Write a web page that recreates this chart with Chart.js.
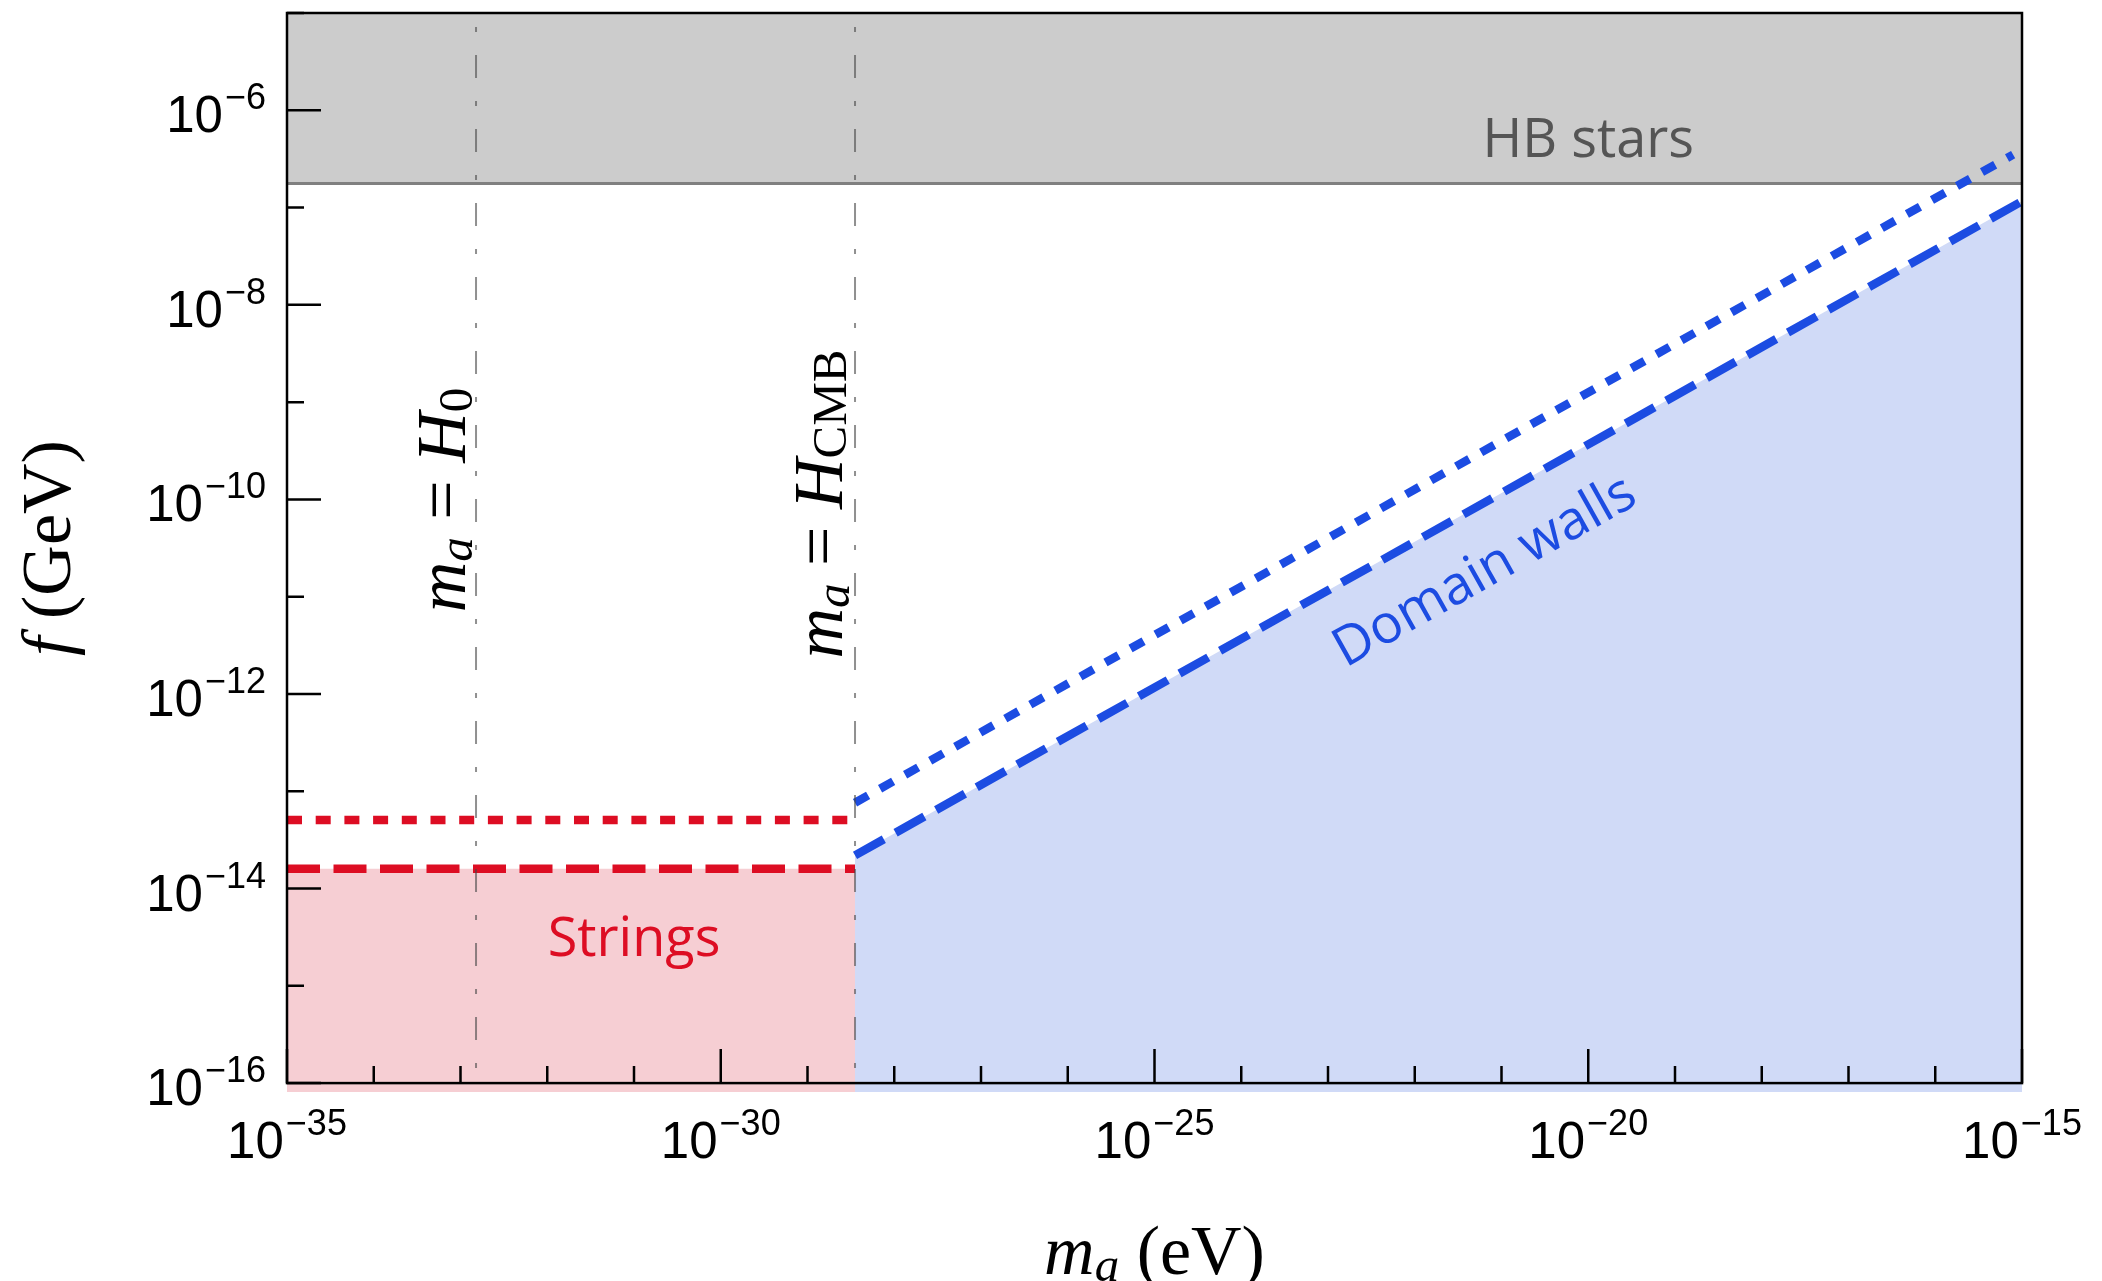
<!DOCTYPE html>
<html>
<head>
<meta charset="utf-8">
<title>Strings and domain walls</title>
<script src="https://cdn.jsdelivr.net/npm/chart.js@4.4.1/dist/chart.umd.min.js"></script>
<style>
  html, body { margin: 0; padding: 0; background: #fff; }
  #chart { display: block; }
</style>
</head>
<body>
<canvas id="chart" width="2102" height="1281"></canvas>
<script>
// ---- values ----
const massRange = [1e-35, 1e-15];        // m_a (eV)
const fRange = [1e-16, 1e-5];            // f (GeV)
const fFillFloor = 8.1e-17;              // the fills run a few px under the frame
const xTickPowers = [-35, -30, -25, -20, -15];
const yTickPowers = [-16, -14, -12, -10, -8, -6];

const massH0 = 1.51e-33;
const massHcmb = 3.53e-29;
const hbStarsF = 1.77e-7;

const stringsMass = [1e-35, 3.53e-29];
const stringsDashedF = [1.6e-14, 1.6e-14];
const stringsDottedF = [5.05e-14, 5.05e-14];

const wallsMass = [3.53e-29, 1e-15];
const wallsDashedF = [2.19e-14, 1.16e-7];
const wallsDottedMass = [3.53e-29, 7.9e-16];
const wallsDottedF = [7.62e-14, 3.5e-7];

// colours
const red = 'rgb(221, 13, 35)';
const pink = 'rgb(246, 206, 211)';
const blue = 'rgb(28, 76, 226)';
const lightBlue = 'rgb(208, 218, 247)';
const guideGray = 'rgba(70, 70, 70, 0.6)';

const SERIF = '"Liberation Serif", "Times New Roman", serif';
const SANS = '"Liberation Sans", Arial, sans-serif';
const LABEL = '"Open Sans", "Noto Sans", sans-serif';

const pts = (xs, ys) => xs.map((x, i) => ({ x: x, y: ys[i] }));

// draws a row of text pieces (mixed fonts, subscripts) centred on (x, y)
function drawRich(ctx, pieces, x, y, angle) {
    ctx.save();
    ctx.translate(x, y);
    ctx.rotate(angle);
    ctx.textAlign = 'left';
    ctx.textBaseline = 'alphabetic';
    const widths = pieces.map(p => {
        ctx.font = p.font;
        return ctx.measureText(p.text).width;
    });
    let cx = -widths.reduce((a, b) => a + b, 0) / 2;
    pieces.forEach((p, i) => {
        ctx.font = p.font;
        ctx.fillStyle = p.color || '#000';
        ctx.fillText(p.text, cx, p.dy || 0);
        cx += widths[i];
    });
    ctx.restore();
}

// "10" with a raised exponent
function drawPower(ctx, exp, x, baseline, align) {
    const base = '10';
    const sup = '\u2212' + Math.abs(exp);
    const gap = 2;
    ctx.font = '51px ' + SANS;
    const wBase = ctx.measureText(base).width;
    ctx.font = '36px ' + SANS;
    const wSup = ctx.measureText(sup).width;
    const total = wBase + gap + wSup;
    const start = align === 'right' ? x - total : x - total / 2;
    ctx.textAlign = 'left';
    ctx.textBaseline = 'alphabetic';
    ctx.fillStyle = '#000';
    ctx.font = '51px ' + SANS;
    ctx.fillText(base, start, baseline);
    ctx.font = '36px ' + SANS;
    ctx.fillText(sup, start + wBase + gap, baseline - 23);
}

const framePlugin = {
    id: 'frame',
    afterDraw(chart) {
        const { ctx, chartArea, scales } = chart;
        const xs = scales.x, ys = scales.y;
        const left = chartArea.left, right = chartArea.right, top = chartArea.top;
        const bottom = ys.getPixelForValue(fRange[0]);

        ctx.save();

        // frame
        ctx.strokeStyle = '#000';
        ctx.lineWidth = 2.5;
        ctx.strokeRect(left, top, right - left, bottom - top);

        // inward ticks, one per decade
        ctx.beginPath();
        for (let p = Math.log10(massRange[0]); p <= Math.log10(massRange[1]); p++) {
            const px = xs.getPixelForValue(Math.pow(10, p));
            const len = xTickPowers.includes(p) ? 34 : 17;
            ctx.moveTo(px, bottom);
            ctx.lineTo(px, bottom - len);
        }
        for (let p = Math.log10(fRange[0]); p <= Math.log10(fRange[1]); p++) {
            const py = ys.getPixelForValue(Math.pow(10, p));
            const len = yTickPowers.includes(p) ? 34 : 17;
            ctx.moveTo(left, py);
            ctx.lineTo(left + len, py);
        }
        ctx.stroke();

        // tick labels
        xTickPowers.forEach(p => {
            drawPower(ctx, p, xs.getPixelForValue(Math.pow(10, p)), bottom + 75, 'center');
        });
        yTickPowers.forEach(p => {
            drawPower(ctx, p, left - 21, ys.getPixelForValue(Math.pow(10, p)) + 22, 'right');
        });

        // axis titles
        drawRich(ctx, [
            { text: 'm', font: 'italic 70px ' + SERIF },
            { text: 'a', font: 'italic 49px ' + SERIF, dy: 7 },
            { text: ' (eV)', font: '70px ' + SERIF }
        ], (left + right) / 2, 1274, 0);
        drawRich(ctx, [
            { text: 'f', font: 'italic 70px ' + SERIF },
            { text: ' (GeV)', font: '70px ' + SERIF }
        ], 70, (top + bottom) / 2, -Math.PI / 2);

        // labels along the two Hubble lines
        drawRich(ctx, [
            { text: 'm', font: 'italic 70px ' + SERIF },
            { text: 'a', font: 'italic 49px ' + SERIF, dy: 7 },
            { text: ' = ', font: '70px ' + SERIF },
            { text: 'H', font: 'italic 70px ' + SERIF },
            { text: '0', font: '49px ' + SERIF, dy: 7 }
        ], xs.getPixelForValue(massH0) - 11, 500, -Math.PI / 2);
        drawRich(ctx, [
            { text: 'm', font: 'italic 70px ' + SERIF },
            { text: 'a', font: 'italic 49px ' + SERIF, dy: 7 },
            { text: ' = ', font: '70px ' + SERIF },
            { text: 'H', font: 'italic 70px ' + SERIF },
            { text: 'CMB', font: '49px ' + SERIF, dy: 4 }
        ], xs.getPixelForValue(massHcmb) - 13, 504, -Math.PI / 2);

        // region names
        ctx.textAlign = 'center';
        ctx.textBaseline = 'alphabetic';
        ctx.font = '54px ' + LABEL;
        ctx.fillStyle = '#555555';
        ctx.fillText('HB stars', xs.getPixelForValue(1e-20), 157);
        ctx.fillStyle = red;
        ctx.fillText('Strings', xs.getPixelForValue(1e-31), 956);

        // domain walls label runs parallel to the f ~ m^(1/2) line
        const p0 = { x: xs.getPixelForValue(wallsMass[0]), y: ys.getPixelForValue(wallsDashedF[0]) };
        const p1 = { x: xs.getPixelForValue(wallsMass[1]), y: ys.getPixelForValue(wallsDashedF[1]) };
        const angle = Math.atan2(p1.y - p0.y, p1.x - p0.x);
        ctx.save();
        ctx.translate(1485, 572);
        ctx.rotate(angle);
        ctx.textBaseline = 'middle';
        ctx.fillStyle = blue;
        ctx.fillText('Domain walls', 0, 0);
        ctx.restore();

        ctx.restore();
    }
};

new Chart(document.getElementById('chart'), {
    type: 'line',
    data: {
        datasets: [
            {
                label: 'HB stars',
                data: pts(massRange, [hbStarsF, hbStarsF]),
                borderColor: '#808080',
                borderWidth: 3,
                backgroundColor: '#cccccc',
                fill: 'end',
                order: 10
            },
            {
                label: 'Strings (dashed)',
                data: pts(stringsMass, stringsDashedF),
                borderColor: red,
                borderWidth: 8.5,
                borderDash: [33, 13.5],
                backgroundColor: pink,
                fill: 'start',
                order: 8
            },
            {
                label: 'Domain walls (dashed)',
                data: pts(wallsMass, wallsDashedF),
                borderColor: blue,
                borderWidth: 8.5,
                borderDash: [33, 13.5],
                backgroundColor: lightBlue,
                fill: 'start',
                order: 7
            },
            {
                label: 'Strings (dotted)',
                data: pts(stringsMass, stringsDottedF),
                borderColor: red,
                borderWidth: 8.5,
                borderDash: [15, 13.7],
                fill: false,
                order: 6
            },
            {
                label: 'Domain walls (dotted)',
                data: pts(wallsDottedMass, wallsDottedF),
                borderColor: blue,
                borderWidth: 8.5,
                borderDash: [15, 13.7],
                fill: false,
                order: 5
            },
            {
                label: 'H0',
                data: pts([massH0, massH0], [fRange[1], fRange[0]]),
                borderColor: guideGray,
                borderWidth: 2,
                borderDash: [23, 23, 5, 23],
                borderDashOffset: 32,
                fill: false,
                order: 4
            },
            {
                label: 'HCMB',
                data: pts([massHcmb, massHcmb], [fRange[1], fRange[0]]),
                borderColor: guideGray,
                borderWidth: 2,
                borderDash: [23, 23, 5, 23],
                borderDashOffset: 32,
                fill: false,
                order: 4
            }
        ]
    },
    options: {
        responsive: false,
        animation: false,
        devicePixelRatio: 1,
        layout: { padding: { left: 287, right: 80, top: 13, bottom: 189 } },
        elements: {
            point: { radius: 0, hoverRadius: 0 },
            line: { tension: 0 }
        },
        plugins: {
            legend: { display: false },
            tooltip: { enabled: false }
        },
        scales: {
            x: { type: 'logarithmic', display: false, min: massRange[0], max: massRange[1] },
            y: { type: 'logarithmic', display: false, min: fFillFloor, max: fRange[1] }
        }
    },
    plugins: [framePlugin]
});
</script>
</body>
</html>
